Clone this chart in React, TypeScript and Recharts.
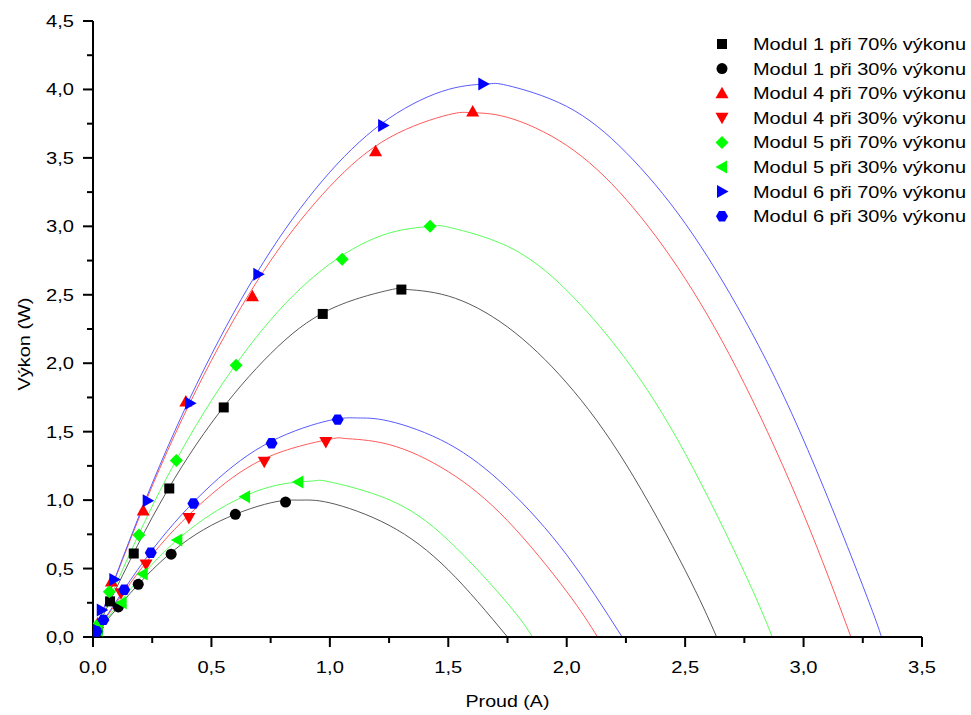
import { ComposedChart, Line, Scatter, XAxis, YAxis } from "recharts";

const FONT = '"Liberation Sans", Arial, sans-serif';

// measured points [proud, vykon]
const m1p70Pts = [[0.02, 0.07], [0.072, 0.26], [0.172, 0.61], [0.322, 1.085], [0.552, 1.677], [0.97, 2.36], [1.302, 2.538]];
const m1p30Pts = [[0.02, 0.04], [0.107, 0.22], [0.191, 0.385], [0.33, 0.605], [0.601, 0.896], [0.813, 0.986]];
const m4p70Pts = [[0.02, 0.1], [0.078, 0.405], [0.212, 0.925], [0.392, 1.72], [0.673, 2.49], [1.193, 3.548], [1.603, 3.838]];
const m4p30Pts = [[0.025, 0.07], [0.118, 0.32], [0.224, 0.53], [0.405, 0.87], [0.723, 1.28], [0.983, 1.425]];
const m5p70Pts = [[0.015, 0.08], [0.069, 0.33], [0.194, 0.745], [0.352, 1.29], [0.604, 1.985], [1.052, 2.76], [1.423, 3.0]];
const m5p30Pts = [[0.02, 0.05], [0.121, 0.25], [0.21, 0.46], [0.356, 0.709], [0.642, 1.025], [0.867, 1.132]];
const m6p70Pts = [[0.01, 0.06], [0.037, 0.197], [0.09, 0.42], [0.231, 0.996], [0.41, 1.708], [0.698, 2.65], [1.225, 3.737], [1.648, 4.04]];
const m6p30Pts = [[0.015, 0.04], [0.044, 0.125], [0.132, 0.345], [0.244, 0.615], [0.424, 0.975], [0.754, 1.415], [1.033, 1.588]];

// fitted curves
const m1p70Fit = [[0, 0], [0.25, 0.873], [0.5, 1.563], [0.75, 2.07], [1, 2.393], [1.25, 2.534], [1.317, 2.54], [1.5, 2.491], [1.75, 2.265], [2, 1.856], [2.25, 1.263], [2.5, 0.488], [2.633, 0]];
const m1p30Fit = [[0, 0], [0.25, 0.49], [0.5, 0.816], [0.75, 0.98], [0.875, 1.0], [1, 0.98], [1.25, 0.816], [1.5, 0.49], [1.75, 0]];
const m4p70Fit = [[0, 0], [0.25, 1.103], [0.5, 2.02], [0.75, 2.749], [1, 3.291], [1.25, 3.647], [1.5, 3.815], [1.6, 3.83], [1.75, 3.796], [2, 3.591], [2.25, 3.198], [2.5, 2.618], [2.75, 1.851], [3, 0.898], [3.2, 0]];
const m4p30Fit = [[0, 0], [0.25, 0.601], [0.5, 1.042], [0.75, 1.323], [1, 1.445], [1.065, 1.45], [1.25, 1.406], [1.5, 1.208], [1.75, 0.85], [2, 0.332], [2.13, 0]];
const m5p70Fit = [[0, 0], [0.25, 0.955], [0.5, 1.727], [0.75, 2.317], [1, 2.725], [1.25, 2.951], [1.434, 3.0], [1.5, 2.994], [1.75, 2.854], [2, 2.532], [2.25, 2.028], [2.5, 1.342], [2.75, 0.473], [2.868, 0]];
const m5p30Fit = [[0, 0], [0.25, 0.532], [0.5, 0.898], [0.75, 1.098], [0.928, 1.14], [1, 1.133], [1.25, 1.003], [1.5, 0.707], [1.75, 0.246], [1.856, 0]];
const m6p70Fit = [[0, 0], [0.25, 1.122], [0.5, 2.063], [0.75, 2.82], [1, 3.396], [1.25, 3.789], [1.5, 4.0], [1.665, 4.04], [1.75, 4.029], [2, 3.876], [2.25, 3.54], [2.5, 3.022], [2.75, 2.322], [3, 1.439], [3.25, 0.374], [3.329, 0]];
const m6p30Fit = [[0, 0], [0.25, 0.636], [0.5, 1.112], [0.75, 1.427], [1, 1.583], [1.117, 1.6], [1.25, 1.577], [1.5, 1.412], [1.75, 1.086], [2, 0.6], [2.234, 0]];

const xTicks = [0, 0.25, 0.5, 0.75, 1, 1.25, 1.5, 1.75, 2, 2.25, 2.5, 2.75, 3, 3.25, 3.5];
const yTicks = [0, 0.25, 0.5, 0.75, 1, 1.25, 1.5, 1.75, 2, 2.25, 2.5, 2.75, 3, 3.25, 3.5, 3.75, 4, 4.25, 4.5];

const toXY = (pairs: number[][]) => pairs.map(([x, y]) => ({ x, y }));

type Kind = "square" | "circle" | "up" | "down" | "diamond" | "left" | "right" | "hex";

const series: { name: string; kind: Kind; color: string; line: string; pts: number[][]; fit: number[][] }[] = [
  { name: "Modul 1 při 70% výkonu", kind: "square", color: "#000000", line: "#5a5a5a", pts: m1p70Pts, fit: m1p70Fit },
  { name: "Modul 1 při 30% výkonu", kind: "circle", color: "#000000", line: "#5a5a5a", pts: m1p30Pts, fit: m1p30Fit },
  { name: "Modul 4 při 70% výkonu", kind: "up", color: "#ff0000", line: "#ff5a5a", pts: m4p70Pts, fit: m4p70Fit },
  { name: "Modul 4 při 30% výkonu", kind: "down", color: "#ff0000", line: "#ff5a5a", pts: m4p30Pts, fit: m4p30Fit },
  { name: "Modul 5 při 70% výkonu", kind: "diamond", color: "#00ff00", line: "#5aff5a", pts: m5p70Pts, fit: m5p70Fit },
  { name: "Modul 5 při 30% výkonu", kind: "left", color: "#00ff00", line: "#5aff5a", pts: m5p30Pts, fit: m5p30Fit },
  { name: "Modul 6 při 70% výkonu", kind: "right", color: "#0000ff", line: "#5a5aff", pts: m6p70Pts, fit: m6p70Fit },
  { name: "Modul 6 při 30% výkonu", kind: "hex", color: "#0000ff", line: "#5a5aff", pts: m6p30Pts, fit: m6p30Fit },
];

function Marker({ kind, cx, cy, color }: { kind: Kind; cx: number; cy: number; color: string }) {
  const s = 6.5;
  switch (kind) {
    case "square":
      return <rect x={cx - 5} y={cy - 5} width={10} height={10} fill={color} />;
    case "circle":
      return <circle cx={cx} cy={cy} r={5.5} fill={color} />;
    case "up":
      return <polygon points={`${cx},${cy - s} ${cx + s},${cy + 5} ${cx - s},${cy + 5}`} fill={color} />;
    case "down":
      return <polygon points={`${cx},${cy + s} ${cx + s},${cy - 5} ${cx - s},${cy - 5}`} fill={color} />;
    case "diamond":
      return <polygon points={`${cx},${cy - s} ${cx + s},${cy} ${cx},${cy + s} ${cx - s},${cy}`} fill={color} />;
    case "left":
      return <polygon points={`${cx - s},${cy} ${cx + 5},${cy - s} ${cx + 5},${cy + s}`} fill={color} />;
    case "right":
      return <polygon points={`${cx + s},${cy} ${cx - 5},${cy - s} ${cx - 5},${cy + s}`} fill={color} />;
    default: {
      const r = 6;
      const pts = [0, 60, 120, 180, 240, 300]
        .map((a) => `${cx + r * Math.cos((a * Math.PI) / 180)},${cy + r * Math.sin((a * Math.PI) / 180)}`)
        .join(" ");
      return <polygon points={pts} fill={color} />;
    }
  }
}

const fmt = (v: number) => v.toFixed(1).replace(".", ",");
const isMajor = (v: number) => Math.abs(v * 2 - Math.round(v * 2)) < 1e-6;

function XTick(props: any) {
  const { x, y, payload } = props;
  const major = isMajor(payload.value);
  return (
    <g>
      <line x1={x} x2={x} y1={y} y2={y + (major ? 10 : 6)} stroke="#000" strokeWidth={2} />
      {major && (
        <text x={x} y={y + 36} textAnchor="middle" fontSize={16.5} fontFamily={FONT} fill="#000" textLength={28} lengthAdjust="spacingAndGlyphs">
          {fmt(payload.value)}
        </text>
      )}
    </g>
  );
}

function YTick(props: any) {
  const { x, y, payload } = props;
  const major = isMajor(payload.value);
  return (
    <g>
      <line x1={x - (major ? 10 : 6)} x2={x} y1={y} y2={y} stroke="#000" strokeWidth={2} />
      {major && (
        <text x={x - 19} y={y + 6} textAnchor="end" fontSize={16.5} fontFamily={FONT} fill="#000" textLength={28} lengthAdjust="spacingAndGlyphs">
          {fmt(payload.value)}
        </text>
      )}
    </g>
  );
}

export default function App() {
  return (
    <div style={{ position: "absolute", left: 0, top: 0, width: 971, height: 715, background: "#fff" }}>
      <ComposedChart width={971} height={715} margin={{ top: 21, right: 49, bottom: 0, left: 0 }}>
        <XAxis
          type="number"
          dataKey="x"
          domain={[0, 3.5]}
          ticks={xTicks}
          interval={0}
          height={78}
          tickSize={0}
          tickMargin={0}
          tickLine={false}
          tick={XTick}
          axisLine={{ stroke: "#000", strokeWidth: 2 }}
          allowDataOverflow
        />
        <YAxis
          type="number"
          dataKey="y"
          domain={[0, 4.5]}
          ticks={yTicks}
          interval={0}
          width={93}
          tickSize={0}
          tickMargin={0}
          tickLine={false}
          tick={YTick}
          axisLine={{ stroke: "#000", strokeWidth: 2 }}
          allowDataOverflow
        />
        {series.map((s) => (
          <Line
            key={`fit-${s.name}`}
            data={toXY(s.fit)}
            dataKey="y"
            type="natural"
            stroke={s.line}
            strokeWidth={1}
            dot={false}
            activeDot={false}
            legendType="none"
            isAnimationActive={false}
          />
        ))}
        {series.map((s) => (
          <Scatter
            key={`pts-${s.name}`}
            name={s.name}
            data={toXY(s.pts)}
            dataKey="y"
            isAnimationActive={false}
            shape={(p: any) => <Marker kind={s.kind} cx={p.cx} cy={p.cy} color={s.color} />}
          />
        ))}
      </ComposedChart>
      <svg width={971} height={715} style={{ position: "absolute", left: 0, top: 0, pointerEvents: "none" }}>
        <text x={507.5} y={707} textAnchor="middle" fontSize={16.5} fontFamily={FONT} textLength={84} lengthAdjust="spacingAndGlyphs">
          Proud (A)
        </text>
        <text transform="translate(30,344) rotate(-90)" textAnchor="middle" fontSize={16.5} fontFamily={FONT} textLength={93} lengthAdjust="spacingAndGlyphs">
          Výkon (W)
        </text>
        {series.map((s, i) => {
          const cy = 44 + i * 24.6;
          return (
            <g key={`leg-${s.name}`}>
              <Marker kind={s.kind} cx={722} cy={cy} color={s.color} />
              <text x={753} y={cy + 6} fontSize={16.5} fontFamily={FONT} fill="#000" textLength={213} lengthAdjust="spacingAndGlyphs">
                {s.name}
              </text>
            </g>
          );
        })}
      </svg>
    </div>
  );
}
